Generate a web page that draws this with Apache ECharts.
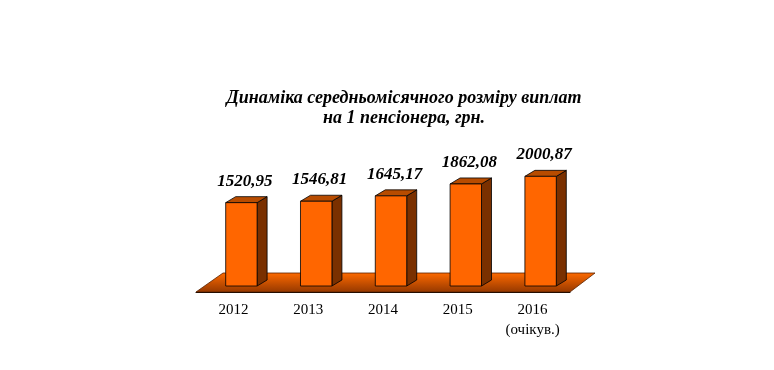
<!DOCTYPE html>
<html lang="uk">
<head>
    <meta charset="utf-8"/>
    <title>Динаміка середньомісячного розміру виплат</title>
    <script src="https://cdn.jsdelivr.net/npm/echarts@6/dist/echarts.min.js"></script>
    <style>
        html, body {
            margin: 0;
            background: #fff;
        }

        .chart {
            width: 774px;
            height: 370px;
        }
    </style>
</head>
<body>
<div class="chart"></div>
<script>
    const years = ["2012", "2013", "2014", "2015", "2016\n(очікув.)"];
    const payments = [1520.95, 1546.81, 1645.17, 1862.08, 2000.87];

    const serif = "'Liberation Serif', 'Times New Roman', serif";
    // 3d look: bars sit in the middle of the floor depth
    const shiftX = 8, shiftY = -6;
    const depthX = 10, depthY = -6;

    const chart = echarts.init(document.querySelector(".chart"));

    function renderFloor(params, api) {
        const cs = params.coordSys;
        const yb = cs.y + cs.height;
        return {
            type: "polygon",
            shape: {
                points: [
                    [cs.x, yb], [cs.x + cs.width, yb],
                    [cs.x + cs.width + 25, yb - 19], [cs.x + 27, yb - 19]
                ]
            },
            style: {
                fill: new echarts.graphic.LinearGradient(0, 0, 0, 1, [
                    {offset: 0, color: "#ff6a00"},
                    {offset: 1, color: "#943800"}
                ]),
                stroke: "#5a2200",
                lineWidth: 0.8
            }
        };
    }

    function renderBar(params, api) {
        const base = api.coord([api.value(0), 0]);
        const top = api.coord([api.value(0), api.value(1)]);
        const bw = api.size([1, 0])[0] * 0.42;
        const x0 = base[0] - bw / 2 + shiftX;
        const x1 = x0 + bw;
        const yb = base[1] + shiftY;
        const yt = top[1] + shiftY;
        const edge = {stroke: "#000", lineWidth: 0.8};
        return {
            type: "group",
            children: [
                {
                    type: "polygon",
                    shape: {points: [[x1, yb], [x1 + depthX, yb + depthY], [x1 + depthX, yt + depthY], [x1, yt]]},
                    style: Object.assign({fill: "#7a3000"}, edge)
                },
                {
                    type: "polygon",
                    shape: {points: [[x0, yt], [x1, yt], [x1 + depthX, yt + depthY], [x0 + depthX, yt + depthY]]},
                    style: Object.assign({fill: "#b84c00"}, edge)
                },
                {
                    type: "rect",
                    shape: {x: x0, y: yt, width: bw, height: yb - yt},
                    style: Object.assign({fill: "#ff6600"}, edge)
                },
                {
                    type: "text",
                    style: {
                        text: api.value(1).toFixed(2).replace(".", ","),
                        x: x0 + bw / 2 + depthX / 2 - 1.5,
                        y: yt + depthY - 7,
                        align: "center",
                        verticalAlign: "bottom",
                        font: "italic bold 17px " + serif,
                        fill: "#000"
                    }
                }
            ]
        };
    }

    chart.setOption({
        animation: false,
        title: {
            text: "Динаміка середньомісячного розміру виплат\nна 1 пенсіонера, грн.",
            left: 399,
            top: 83,
            textAlign: "center",
            textStyle: {
                fontFamily: serif,
                fontStyle: "italic",
                fontWeight: "bold",
                fontSize: 18,
                lineHeight: 20,
                color: "#000"
            }
        },
        grid: {left: 196, right: 204, top: 155, bottom: 78},
        xAxis: {
            type: "category",
            data: years,
            axisLine: {lineStyle: {color: "#000", width: 1}},
            axisTick: {length: 5, lineStyle: {color: "#000"}},
            axisLabel: {
                margin: 8,
                color: "#000",
                fontFamily: serif,
                fontSize: 15,
                lineHeight: 20
            }
        },
        yAxis: {
            type: "value",
            min: 0,
            max: 2500,
            show: false
        },
        series: [
            {
                type: "custom",
                renderItem: renderFloor,
                data: [[0, 0]],
                z: 1,
                silent: true
            },
            {
                type: "custom",
                renderItem: renderBar,
                data: payments.map((v, i) => [i, v]),
                z: 2
            }
        ]
    });
</script>
</body>
</html>
